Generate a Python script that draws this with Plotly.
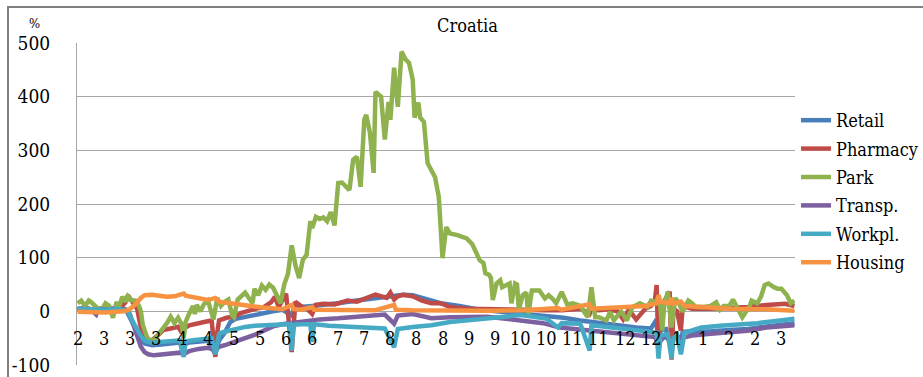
import pandas as pd
import plotly.graph_objects as go

# Google-style mobility change (%) for Croatia, daily from 17 Feb 2020.
START = pd.Timestamp("2020-02-17")
LAST_DAY = 385

# (day offset from START, change in %)
retail = [(0, 4), (4, 6), (8, 3), (12, 5), (16, 6), (20, 4), (24, 6), (26, 3), (28, -10), (30, -25),
          (32, -40), (34, -52), (36, -60), (40, -63), (45, -62), (50, -60), (55, -58), (56, -70), (57, -62), (60, -58),
          (65, -56), (70, -55), (74, -80), (76, -54), (79, -40), (82, -20), (85, -14), (90, -10), (95, -6), (100, -3),
          (105, 0), (110, 3), (115, -8), (116, 5), (120, 8), (126, 10), (130, 11), (140, 15), (150, 20), (160, 25),
          (165, 27), (170, 28), (175, 31), (180, 30), (185, 25), (190, 20), (195, 15), (205, 10), (216, 3), (225, 0),
          (234, -3), (243, -5), (252, -8), (261, -12), (270, -17), (280, -22), (290, -26), (300, -30), (308, -32), (311, -15),
          (312, -78), (313, -35), (316, -33), (319, -75), (320, -38), (324, -60), (325, -38), (330, -38), (340, -37), (350, -35),
          (360, -33), (370, -28), (378, -25), (385, -22)]

pharmacy = [(0, 4), (4, 6), (8, 3), (12, 5), (16, 6), (20, 5), (24, 10), (26, 18), (27, 30), (28, 25),
            (30, 14), (32, 5), (34, -31), (36, -50), (38, -53), (40, -54), (43, -45), (46, -35), (50, -32), (54, -29),
            (56, -40), (57, -32), (60, -26), (64, -22), (68, -20), (72, -17), (74, -85), (75, -40), (76, -17), (80, -12),
            (84, -10), (88, -3), (92, 2), (96, 5), (100, 8), (104, 17), (106, 27), (108, 8), (112, 33), (115, -76),
            (117, 18), (120, 10), (124, 2), (126, -5), (128, 12), (132, 14), (138, 13), (145, 20), (150, 18), (155, 25),
            (160, 31), (166, 25), (168, 35), (170, 22), (172, 28), (175, 31), (180, 28), (185, 20), (190, 15), (195, 15),
            (200, 8), (210, 5), (220, 5), (230, 3), (240, 3), (250, 2), (260, 2), (270, 5), (275, -5), (276, 4),
            (280, 2), (285, 4), (290, 0), (293, -15), (296, 3), (300, -15), (305, 5), (308, 10), (310, 19), (311, 49),
            (312, -80), (313, 6), (317, 30), (318, 37), (319, -90), (320, 5), (322, 0), (324, -36), (325, 10), (330, 5),
            (340, 5), (350, 6), (360, 8), (370, 12), (380, 14), (385, 10)]

park = [(0, 15), (2, 20), (4, 10), (6, 20), (7, 18), (9, 12), (11, 5), (13, 3), (15, 15), (17, 10),
        (19, -12), (21, 18), (22, 5), (24, 27), (26, 18), (27, 28), (29, 20), (31, 20), (33, 10), (34, 0),
        (35, -25), (37, -45), (38, -52), (40, -55), (42, -50), (44, -40), (46, -32), (48, -22), (50, -10), (52, -22),
        (54, -12), (56, -25), (57, -50), (58, -20), (60, -4), (62, 10), (63, -5), (64, 12), (66, 0), (68, 14),
        (70, 20), (72, -5), (73, -15), (75, 25), (77, 10), (79, 18), (81, 22), (83, -8), (84, -11), (86, 22),
        (88, 28), (90, 35), (92, 25), (94, 15), (95, 42), (97, 30), (99, 48), (101, 40), (103, 50), (105, 44),
        (107, 30), (109, 15), (111, 50), (113, 70), (115, 123), (117, 86), (119, 62), (121, 96), (123, 105), (125, 168),
        (126, 155), (128, 176), (130, 172), (132, 175), (134, 168), (136, 185), (138, 160), (140, 239), (142, 240), (144, 232),
        (146, 226), (148, 282), (150, 288), (152, 232), (154, 357), (155, 366), (157, 333), (159, 258), (160, 409), (163, 400),
        (165, 320), (167, 390), (168, 357), (170, 454), (172, 381), (174, 484), (176, 470), (178, 463), (180, 432), (181, 361),
        (183, 389), (184, 361), (186, 353), (188, 276), (192, 250), (194, 213), (196, 99), (198, 157), (200, 145), (204, 142),
        (209, 136), (212, 125), (214, 108), (216, 95), (218, 90), (219, 71), (221, 68), (222, 62), (223, 21), (225, 52),
        (227, 58), (228, 45), (232, 52), (233, 15), (235, 52), (236, 50), (237, 2), (239, 30), (241, 35), (242, -7),
        (244, 39), (248, 39), (251, 24), (253, 30), (255, 24), (257, 15), (260, 36), (263, 13), (266, 15), (270, 10),
        (272, -1), (274, -11), (276, 45), (278, -11), (280, -11), (284, -17), (286, -1), (288, -17), (290, -8), (292, -1),
        (295, -17), (298, 8), (302, 15), (306, 8), (308, 20), (311, 17), (312, 27), (313, 8), (314, -36), (315, 8),
        (317, 37), (319, -30), (321, 25), (323, 15), (325, -1), (328, 20), (330, 15), (332, 8), (336, 8), (340, 10),
        (343, 17), (345, 3), (347, 10), (350, 10), (352, 22), (354, 8), (357, -11), (361, 10), (362, 20), (365, 15),
        (367, 27), (369, 49), (371, 52), (374, 45), (376, 42), (378, 42), (380, 34), (381, 30), (383, 15), (385, 20)]

transp = [(0, 5), (4, 3), (7, 4), (10, -6), (11, 3), (14, 4), (18, 2), (22, 4), (26, 3), (28, -5),
          (30, -25), (32, -45), (34, -66), (36, -76), (38, -80), (41, -82), (45, -80), (50, -78), (55, -77), (57, -80),
          (60, -74), (65, -70), (70, -68), (74, -72), (76, -66), (80, -62), (85, -57), (90, -50), (95, -44), (100, -36),
          (105, -28), (110, -24), (115, -22), (120, -18), (125, -16), (130, -15), (140, -13), (150, -10), (160, -8), (165, -6),
          (170, -23), (172, -8), (180, -5), (185, -8), (190, -13), (200, -11), (210, -10), (220, -10), (230, -14), (240, -18),
          (250, -22), (259, -30), (265, -32), (275, -35), (285, -38), (290, -41), (300, -44), (310, -48), (312, -60), (315, -47),
          (319, -55), (322, -46), (324, -50), (330, -45), (340, -42), (350, -40), (360, -36), (370, -30), (380, -27), (385, -26)]

workpl = [(0, 5), (5, 4), (10, 5), (15, 3), (20, 5), (25, 4), (27, 2), (29, -15), (32, -36), (34, -46),
          (36, -54), (38, -57), (41, -58), (45, -57), (50, -55), (55, -54), (57, -85), (58, -56), (62, -54), (67, -52),
          (72, -50), (74, -80), (76, -42), (78, -39), (82, -35), (86, -32), (90, -29), (95, -27), (100, -26), (105, -24),
          (110, -23), (114, -24), (115, -73), (116, -25), (120, -24), (125, -24), (126, -57), (127, -24), (135, -27), (145, -29),
          (155, -31), (165, -32), (170, -67), (172, -33), (180, -29), (190, -26), (200, -20), (210, -17), (220, -14), (230, -10),
          (238, -7), (245, -10), (252, -14), (258, -30), (260, -22), (270, -23), (275, -73), (276, -26), (285, -29), (295, -34),
          (305, -37), (311, -40), (312, -88), (313, -45), (317, -42), (319, -88), (320, -50), (322, -45), (324, -80), (326, -40),
          (335, -30), (345, -27), (355, -25), (365, -22), (375, -18), (385, -14)]

housing = [(0, -1), (5, -2), (10, -1), (15, -2), (20, -1), (25, 0), (28, 4), (31, 13), (34, 25), (36, 30),
           (40, 31), (44, 28), (48, 27), (52, 28), (56, 31), (57, 33), (58, 29), (62, 26), (66, 24), (70, 21),
           (74, 25), (76, 18), (80, 16), (85, 13), (90, 11), (95, 9), (100, 7), (105, 6), (110, 4), (115, 12),
           (116, 4), (120, 3), (126, 8), (127, 3), (140, 2), (160, 2), (170, 12), (171, 3), (180, 2), (200, 1),
           (220, 1), (240, 2), (258, 6), (260, 3), (275, 13), (276, 5), (285, 7), (295, 8), (305, 10), (311, 15),
           (312, 30), (313, 18), (318, 15), (319, 25), (320, 14), (324, 18), (326, 10), (335, 8), (350, 5), (370, 4),
           (385, 1)]

# Month number shown every 14 days along the category axis
label_days = list(range(0, 379, 14))
label_text = ["2", "3", "3", "3", "4", "4", "5", "5", "6", "6", "7", "7", "8", "8",
              "8", "9", "9", "10", "10", "11", "11", "12", "12", "1", "1", "2", "2", "3"]

# Value axis ticks
y_ticks = [-100, 0, 100, 200, 300, 400, 500]
y_tick_text = ["-100", "0", "100", "200", "300", "400", "500"]

series = [
    ("Retail", retail, "#4A7EBB"),
    ("Pharmacy", pharmacy, "#BE4B48"),
    ("Park", park, "#8FB24F"),
    ("Transp.", transp, "#7D60A0"),
    ("Workpl.", workpl, "#46AAC5"),
    ("Housing", housing, "#F69240"),
]

SERIF = "DejaVu Serif Condensed, DejaVu Serif"
W, H = 923, 377
ML, MR, MT, MB = 77, 128, 43, 12
PW, PH = W - ML - MR, H - MT - MB


def day_to_date(days):
    return START + pd.to_timedelta(list(days), unit="D")


def px_x(p):
    return (p - ML) / PW


def px_y(p):
    return (H - MB - p) / PH


fig = go.Figure()
for name, pts, color in series:
    days, vals = zip(*pts)
    fig.add_trace(go.Scatter(
        x=day_to_date(days), y=list(vals), name=name, mode="lines",
        line=dict(color=color, width=4.5),
        legendgroup=name,
    ))

annotations = [
    dict(x=d, y=-50, xref="x", yref="y", text=t, showarrow=False,
         font=dict(family=SERIF, size=18, color="black"), xanchor="center", yanchor="middle")
    for d, t in zip(day_to_date(label_days), label_text)
]
annotations.append(dict(x=px_x(467), y=px_y(25), xref="paper", yref="paper", text="Croatia",
                        showarrow=False, font=dict(family=SERIF, size=18, color="black"),
                        xanchor="center", yanchor="middle"))
annotations.append(dict(x=px_x(34), y=px_y(23), xref="paper", yref="paper", text="%",
                        showarrow=False, font=dict(family=SERIF, size=13, color="black"),
                        xanchor="center", yanchor="middle"))

fig.update_layout(
    width=W, height=H,
    margin=dict(l=ML, r=MR, t=MT, b=MB, autoexpand=False),
    paper_bgcolor="white", plot_bgcolor="white",
    showlegend=True,
    legend=dict(x=px_x(796), y=px_y(102), xanchor="left", yanchor="top",
                font=dict(family=SERIF, size=18, color="black"),
                tracegroupgap=2, bgcolor="rgba(0,0,0,0)"),
    xaxis=dict(type="date",
               range=[day_to_date([-0.3])[0], day_to_date([LAST_DAY + 0.3])[0]],
               showgrid=False, showticklabels=False, zeroline=False, showline=False, ticks=""),
    yaxis=dict(range=[-100, 500], tickmode="array", tickvals=y_ticks, ticktext=y_tick_text,
               showgrid=True, gridcolor="#a6a6a6", gridwidth=1,
               zeroline=False, showline=True, linecolor="#a6a6a6", linewidth=1,
               ticks="", ticklabelstandoff=22, ticklabeloverflow="allow",
               tickfont=dict(family=SERIF, size=19, color="black")),
    annotations=annotations,
    shapes=[dict(type="rect", xref="paper", yref="paper",
                 x0=px_x(8), x1=px_x(935), y0=px_y(395), y1=px_y(7),
                 line=dict(color="#7f7f7f", width=2), fillcolor="rgba(0,0,0,0)", layer="below")],
)

fig.write_html("out.html")
